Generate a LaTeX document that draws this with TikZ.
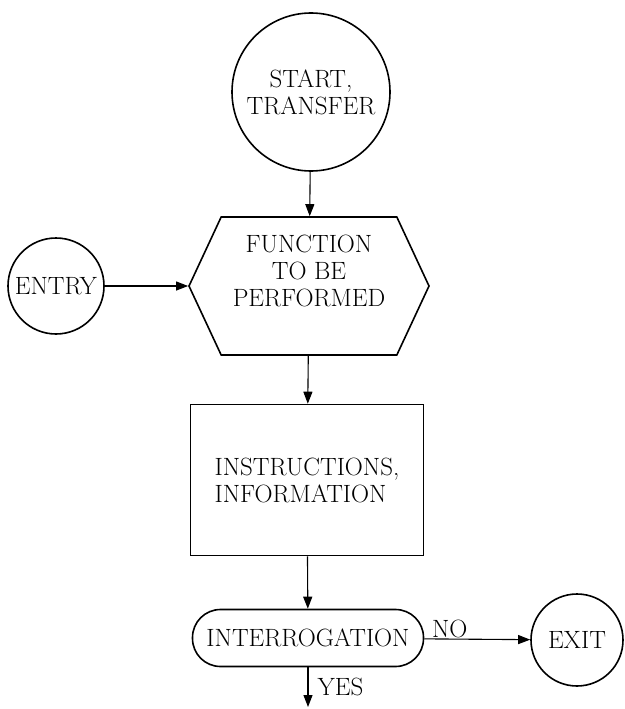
\documentclass[tikz,border=0pt]{standalone}
\usepackage{fontspec}
\usepackage{tikz}
\usetikzlibrary{arrows.meta, shapes.geometric, shapes.symbols, shapes.misc, positioning}
\newcommand{\chartfont}{\fontsize{25}{27}\selectfont\addfontfeature{LetterSpace=8}}
\tikzset{
  >=Triangle,
  % blocks of the chart
  box/.style={draw, line width=1.6pt, inner sep=0pt, font=\chartfont},
  term/.style={box, circle, align=center},
  hexa/.style={box, shape=signal, signal to=east and west, signal pointer angle=130},
  txt/.style={font=\chartfont, inner sep=1pt},
  % connectors
  arr/.style={-{Triangle[length=12pt,width=9pt]}, line width=1.1pt}
}
\begin{document}
\begin{tikzpicture}[x=1pt, y=-1pt]
  \useasboundingbox (0,0) rectangle (624,709);
  \node[term, minimum size=158] (start) at (311,92) {START,\\TRANSFER};
  \node[term, minimum size=96] (entry) at (56,286) {ENTRY};
  \node[hexa, minimum width=240, minimum height=138] (func) at (309,286) {};
  \node[txt, align=center] (functext) at (309,271) {FUNCTION\\TO BE\\PERFORMED};
  \node[box, minimum width=233, minimum height=151, align=left] (instr) at (307,480) {INSTRUCTIONS,\\INFORMATION};
  \node[box, rounded corners=28, minimum width=231, minimum height=57] (interr) at (308,638) {INTERROGATION};
  \node[term, minimum size=92] (exit) at (577,640) {EXIT};
  \coordinate (out) at (308,707);
  \draw[arr] (start) -- (func);
  \draw[arr] (entry) -- (func);
  \draw[arr] (func) -- (instr);
  \draw[arr] (instr) -- (interr);
  \draw[arr] (interr) -- node[txt, pos=.24, above]{NO} (exit);
  \draw[arr] (interr) -- node[txt, midway, right, xshift=8pt]{YES} (out);
\end{tikzpicture}
\end{document}
